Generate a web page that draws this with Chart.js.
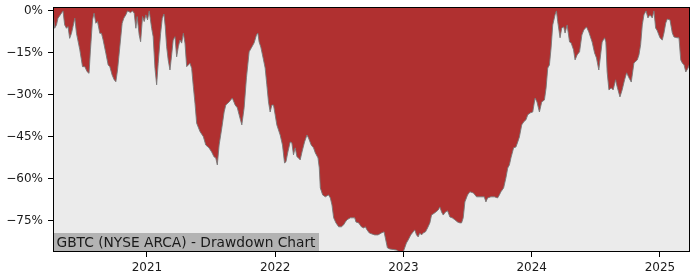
<!DOCTYPE html>
<html>
<head>
<meta charset="utf-8">
<script src="https://cdn.jsdelivr.net/npm/chart.js@4/dist/chart.umd.min.js"></script>
<style>
  html, body { margin: 0; padding: 0; background: #ffffff; }
  #wrap { width: 700px; height: 280px; position: relative; }
</style>
</head>
<body>
<div id="wrap"><canvas id="c" width="700" height="280"></canvas></div>
<script>
// Decimal-year dates of the sampled points
const years = [
2020.268,2020.281,2020.295,2020.307,2020.334,2020.346,2020.359,2020.373,2020.385,2020.398,
2020.412,2020.424,2020.438,2020.451,2020.477,2020.498,2020.516,2020.534,2020.549,2020.560,
2020.576,2020.588,2020.602,2020.615,2020.633,2020.646,2020.659,2020.680,2020.698,2020.711,
2020.729,2020.745,2020.758,2020.771,2020.789,2020.807,2020.820,2020.836,2020.849,2020.873,
2020.888,2020.901,2020.914,2020.924,2020.940,2020.951,2020.966,2020.979,2020.992,2021.005,
2021.018,2021.037,2021.049,2021.063,2021.076,2021.088,2021.107,2021.120,2021.133,2021.143,
2021.154,2021.166,2021.180,2021.193,2021.205,2021.219,2021.232,2021.245,2021.258,2021.271,
2021.284,2021.297,2021.310,2021.323,2021.336,2021.349,2021.362,2021.375,2021.388,2021.414,
2021.440,2021.459,2021.484,2021.505,2021.523,2021.537,2021.549,2021.563,2021.584,2021.602,
2021.615,2021.641,2021.666,2021.688,2021.705,2021.719,2021.740,2021.758,2021.776,2021.797,
2021.818,2021.836,2021.854,2021.865,2021.875,2021.888,2021.906,2021.922,2021.935,2021.948,
2021.961,2021.974,2021.987,2022.000,2022.013,2022.039,2022.057,2022.073,2022.084,2022.099,
2022.117,2022.130,2022.143,2022.156,2022.170,2022.182,2022.195,2022.209,2022.229,2022.248,
2022.260,2022.281,2022.299,2022.313,2022.334,2022.344,2022.352,2022.370,2022.391,2022.416,
2022.430,2022.443,2022.456,2022.474,2022.495,2022.516,2022.534,2022.547,2022.560,2022.586,
2022.604,2022.620,2022.630,2022.651,2022.672,2022.690,2022.703,2022.716,2022.734,2022.750,
2022.776,2022.802,2022.828,2022.849,2022.859,2022.875,2022.893,2022.920,2022.945,2022.971,
2022.998,2023.010,2023.023,2023.037,2023.057,2023.076,2023.088,2023.102,2023.115,2023.127,
2023.141,2023.154,2023.172,2023.188,2023.206,2023.219,2023.245,2023.271,2023.284,2023.297,
2023.310,2023.328,2023.344,2023.362,2023.380,2023.401,2023.422,2023.440,2023.453,2023.466,
2023.479,2023.500,2023.518,2023.545,2023.570,2023.599,2023.630,2023.643,2023.656,2023.682,
2023.709,2023.734,2023.748,2023.760,2023.781,2023.799,2023.813,2023.826,2023.838,2023.859,
2023.877,2023.891,2023.904,2023.922,2023.938,2023.955,2023.969,2023.990,2024.008,2024.026,
2024.041,2024.060,2024.078,2024.099,2024.112,2024.125,2024.138,2024.151,2024.164,2024.182,
2024.193,2024.203,2024.221,2024.234,2024.250,2024.260,2024.276,2024.295,2024.307,2024.326,
2024.338,2024.354,2024.373,2024.391,2024.406,2024.427,2024.445,2024.471,2024.490,2024.505,
2024.523,2024.537,2024.549,2024.568,2024.578,2024.588,2024.602,2024.620,2024.635,2024.654,
2024.666,2024.688,2024.705,2024.724,2024.740,2024.758,2024.776,2024.797,2024.823,2024.836,
2024.849,2024.862,2024.875,2024.891,2024.906,2024.922,2024.940,2024.953,2024.966,2024.979,
2025.000,2025.018,2025.031,2025.045,2025.057,2025.078,2025.096,2025.109,2025.135,2025.148,
2025.162,2025.174,2025.188,2025.201,2025.219,2025.234
];

// Drawdown from running peak, in percent
const drawdown = [
0.0,-6.2,-5.0,-2.6,-0.8,0.0,-5.0,-6.2,-5.6,-9.8,
-8.0,-5.6,-2.6,-8.0,-13.9,-19.9,-19.9,-21.7,-22.3,-13.9,
-3.2,-0.8,-4.4,-3.8,-8.0,-8.0,-10.4,-15.1,-19.3,-19.9,
-22.9,-24.6,-25.3,-21.1,-12.8,-4.4,-2.6,-1.4,0.0,-0.6,
0.0,-0.8,-6.2,-2.0,-8.6,-11.0,-2.0,-3.8,-1.4,-3.2,
0.0,-6.2,-9.2,-20.5,-26.4,-18.7,-8.0,-2.6,-1.1,-5.6,
-12.8,-17.5,-21.1,-15.7,-10.4,-9.2,-16.4,-12.8,-10.4,-11.5,
-8.0,-11.5,-19.9,-19.3,-18.7,-20.5,-27.0,-33.0,-40.1,-43.1,
-44.9,-47.9,-48.9,-50.4,-52.1,-52.5,-55.0,-47.9,-41.8,-36.1,
-33.6,-32.5,-31.1,-33.6,-34.6,-37.1,-40.7,-34.6,-23.9,-14.6,
-12.9,-11.4,-8.6,-7.9,-11.1,-12.9,-16.8,-20.4,-26.4,-32.5,
-36.1,-33.6,-33.6,-37.1,-40.7,-44.3,-47.9,-54.3,-53.9,-50.4,
-46.8,-47.1,-51.4,-48.9,-52.1,-52.5,-53.2,-50.4,-46.8,-44.3,
-45.4,-47.9,-48.9,-50.7,-52.5,-56.1,-63.2,-65.7,-66.4,-65.7,
-66.8,-69.3,-73.9,-75.7,-77.1,-77.1,-76.4,-75.4,-74.6,-73.9,
-73.9,-73.9,-75.4,-75.7,-77.1,-77.5,-77.1,-78.2,-79.3,-79.6,
-80.0,-80.0,-79.3,-78.9,-81.1,-84.6,-85.0,-85.2,-85.4,-86.1,
-86.1,-84.6,-82.9,-81.8,-80.0,-78.9,-78.2,-80.0,-80.7,-79.3,
-80.0,-79.3,-78.9,-77.5,-75.7,-72.9,-72.1,-71.1,-70.0,-71.8,
-72.9,-71.8,-71.4,-73.6,-73.9,-74.6,-75.4,-75.7,-75.7,-73.9,
-68.2,-65.7,-64.6,-65.0,-66.4,-66.4,-66.4,-68.2,-66.8,-66.4,
-66.4,-66.8,-65.7,-64.6,-63.2,-59.6,-56.1,-55.0,-52.5,-48.9,
-48.6,-46.8,-45.0,-40.7,-39.6,-38.9,-37.1,-36.4,-36.1,-31.1,
-32.5,-36.1,-32.5,-31.8,-27.5,-20.4,-19.3,-13.2,-5.0,-1.4,
0.0,-3.9,-9.6,-6.1,-5.7,-7.9,-5.0,-11.1,-11.4,-13.9,
-17.5,-15.7,-14.6,-8.6,-6.8,-5.7,-7.5,-11.1,-15.0,-16.8,
-21.1,-15.7,-11.1,-9.6,-11.1,-21.8,-28.2,-27.5,-28.2,-24.6,
-27.1,-30.7,-28.2,-24.6,-22.1,-23.9,-25.4,-18.6,-17.5,-15.7,
-12.1,-5.0,-1.4,0.0,-2.5,-1.4,-2.5,0.0,-6.1,-7.1,
-9.6,-10.4,-7.9,-4.3,-2.9,-3.2,-7.9,-9.3,-9.6,-9.6,
-17.5,-18.6,-19.3,-21.8,-20.4,-18.6
];

const xTickYears = [2021, 2022, 2023, 2024, 2025];
const yTickValues = [0, -15, -30, -45, -60, -75];
const chartTitle = 'GBTC (NYSE ARCA) - Drawdown Chart';

const points = years.map((t, i) => ({ x: t, y: drawdown[i] }));

const framePlugin = {
  id: 'frame',
  beforeDraw(chart) {
    const { ctx, chartArea: a } = chart;
    ctx.save();
    ctx.fillStyle = '#ebebeb';
    ctx.fillRect(a.left, a.top, a.right - a.left, a.bottom - a.top);
    ctx.restore();
  },
  afterDatasetsDraw(chart) {
    const { ctx, chartArea: a } = chart;
    ctx.save();
    ctx.font = '13.75px "DejaVu Sans"';
    const w = ctx.measureText(chartTitle).width;
    ctx.fillStyle = '#b3b3b3';
    ctx.fillRect(a.left, a.bottom - 19, w + 7, 19);
    ctx.fillStyle = '#1a1a1a';
    ctx.textBaseline = 'alphabetic';
    ctx.textAlign = 'left';
    ctx.fillText(chartTitle, a.left + 3.5, a.bottom - 5);
    ctx.restore();
  },
  afterDraw(chart) {
    const { ctx, chartArea: a } = chart;
    ctx.save();
    ctx.strokeStyle = '#000000';
    ctx.lineWidth = 1;
    ctx.strokeRect(Math.round(a.left) + 0.5, Math.round(a.top) + 0.5,
                   Math.round(a.right - a.left) - 1, Math.round(a.bottom - a.top) - 1);
    ctx.restore();
  }
};

new Chart(document.getElementById('c'), {
  type: 'line',
  data: {
    datasets: [{
      data: points,
      fill: 'end',
      backgroundColor: '#b03030',
      borderColor: 'rgba(120,120,120,0.9)',
      borderWidth: 1,
      pointRadius: 0,
      tension: 0
    }]
  },
  options: {
    responsive: false,
    animation: false,
    devicePixelRatio: 1,
    layout: { padding: { top: 7, right: 10, left: 0, bottom: 0 } },
    plugins: { legend: { display: false }, tooltip: { enabled: false } },
    scales: {
      x: {
        type: 'linear',
        min: years[0],
        max: years[years.length - 1],
        afterBuildTicks: (s) => { s.ticks = xTickYears.map(v => ({ value: v })); },
        afterFit: (s) => { s.height = 28; s.paddingLeft = 0; s.paddingRight = 0; },
        grid: { drawOnChartArea: false, drawTicks: true, tickLength: 5, color: '#000000' },
        border: { display: false },
        ticks: {
          autoSkip: false, maxRotation: 0, padding: 4,
          color: '#1a1a1a',
          font: { family: 'DejaVu Sans', size: 12 },
          callback: (v) => String(v)
        }
      },
      y: {
        type: 'linear',
        min: -86.1,
        max: 1.4,
        afterBuildTicks: (s) => { s.ticks = yTickValues.map(v => ({ value: v })); },
        afterFit: (s) => { s.width = 53; s.paddingTop = 0; s.paddingBottom = 0; },
        grid: { drawOnChartArea: false, drawTicks: true, tickLength: 5, color: '#000000' },
        border: { display: false },
        ticks: {
          autoSkip: false, padding: 5,
          color: '#1a1a1a',
          font: { family: 'DejaVu Sans', size: 12 },
          callback: (v) => v === 0 ? '0%' : '\u2212' + Math.abs(v) + '%'
        }
      }
    }
  },
  plugins: [framePlugin]
});
</script>
</body>
</html>
